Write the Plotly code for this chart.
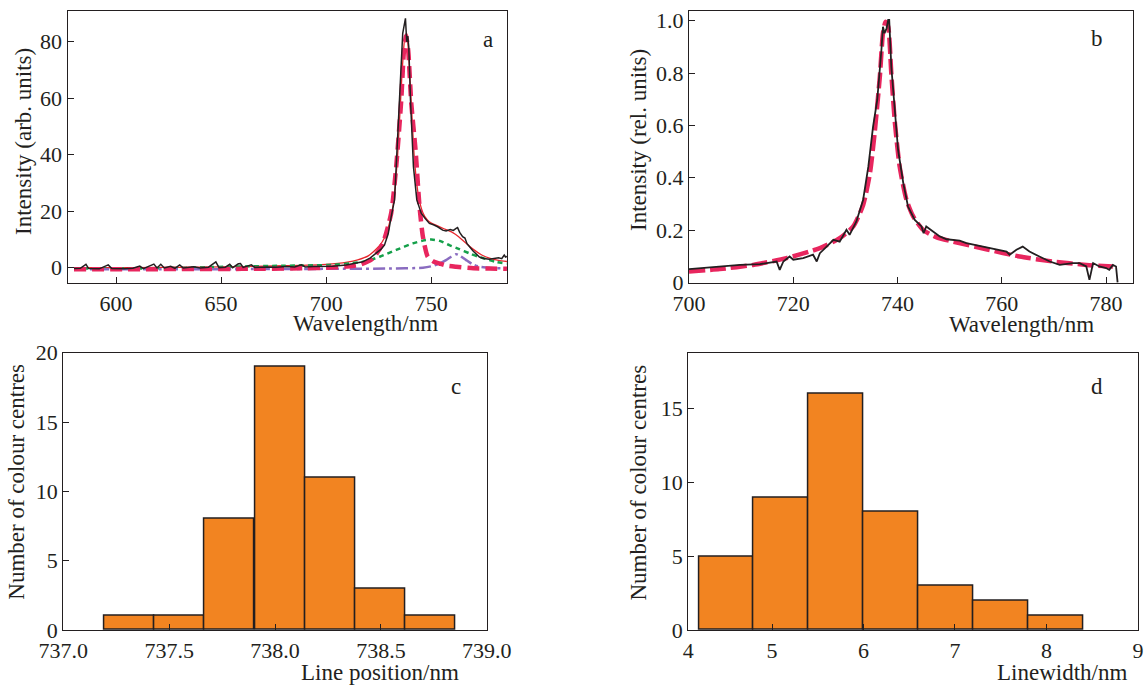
import plotly.graph_objects as go
from plotly.subplots import make_subplots

# ---------------- Panel a: spectrum with fit components ----------------
a_wl = [580, 583, 585.7, 587, 592, 596.3, 598, 604, 608, 611.3, 613, 618, 619.5, 621.3, 623, 626, 628,
        630.3, 632, 637, 640, 644, 647.5, 649, 652, 654.1, 655.5, 658.2, 659.2, 660.5, 664.4, 666, 672,
        676, 681, 685, 688.2, 690, 694, 698, 703, 709.5, 714, 717.4, 721, 723.8, 726, 727.7, 729.5,
        730.9, 732.5, 733.3, 734.9, 736.4, 737.7, 738.3, 738.8, 739.3, 740.1, 740.9, 741.5, 743.1,
        745.2, 747, 749.1, 751, 753, 755.4, 757, 759, 760.5, 761.8, 762.5, 763.5, 764.9, 766, 767,
        768.1, 770, 772.9, 775, 777.6, 780, 782, 783.5, 784.7, 785.3, 786]
a_int = [-0.3, -0.2, 1.2, -0.3, -0.4, 1.0, -0.3, -0.4, -0.2, 0.6, -0.3, 1.3, -0.1, 1.2, -0.1, 0.5, -0.2,
         1.0, -0.1, 0.3, -0.1, 0.2, 2.1, 0.0, 0.2, 1.2, 0.0, 1.4, 1.5, 0.1, 1.0, 0.1, 0.3,
         0.2, 0.4, 0.3, 1.0, 0.3, 0.4, 0.4, 0.5, 1.0, 1.6, 2.1, 3.5, 5.1, 6.5, 8.0, 12.0,
         18.0, 24.0, 35.8, 59.3, 83.0, 88.3, 80.0, 82.0, 78.0, 59.3, 47.6, 35.8, 24.0,
         19.3, 17.5, 15.7, 15.2, 14.5, 13.3, 13.0, 13.5, 13.2, 13.9, 14.2, 12.5, 11.0, 10.5, 8.5,
         7.5, 5.8, 3.8, 3.3, 3.0, 3.3, 3.5, 3.2, 4.5, 3.8, 4.0]

fit_total_wl = [580, 600, 620, 640, 660, 680, 700, 710, 715, 720, 725, 728, 730, 732, 734, 736, 737.5,
                738.3, 739, 740.5, 742, 744, 746, 748, 750, 753, 756, 760, 763, 766, 770, 774, 778, 782, 786]
fit_total = [0.0, 0.0, 0.1, 0.2, 0.4, 0.7, 1.2, 2.0, 2.8, 4.2, 7.5, 11.0, 15.5, 23.0, 40.0, 68.0, 82.0,
             83.0, 78.0, 58.0, 38.0, 25.0, 19.5, 17.0, 15.8, 14.8, 13.8, 12.5, 11.0, 9.0, 6.5, 4.5, 3.3, 2.6, 2.2]

lor_wl = [580, 620, 660, 690, 700, 709.5, 715.9, 722.2, 726.9, 730.9, 733.3, 735.7, 737, 738, 739, 740.5,
          742.5, 744.4, 746, 748.3, 751, 753.9, 757, 761.8, 770, 777.6, 786]
lor_int = [-0.5, -0.5, -0.4, -0.2, 0.0, 0.4, 1.0, 3.3, 8.6, 19.3, 35.8, 59.3, 77.0, 82.0, 77.0, 58.0,
           41.7, 21.6, 11.0, 3.9, 2.2, 1.5, 0.8, 0.35, -0.2, -0.3, -0.4]

gauss1_wl = [580, 620, 655.5, 680, 703, 712, 719, 725.4, 733.3, 741.2, 746, 750, 754, 758.6, 763, 768.1,
             772, 777.6, 781, 786]
gauss1_int = [-0.3, -0.2, 0.4, 0.7, 1.0, 1.6, 2.3, 3.9, 6.3, 8.6, 9.6, 10.0, 9.5, 8.0, 6.7, 5.1,
              4.0, 2.7, 2.0, 1.4]

gauss2_wl = [580, 620, 660, 700, 730, 746, 750, 753.9, 757, 759.5, 761.8, 763.5, 766.6, 769.5, 772.9, 778, 786]
gauss2_int = [-0.5, -0.5, -0.5, -0.4, -0.3, 0.0, 0.5, 1.5, 2.7, 3.9, 4.8, 4.3, 2.7, 1.3, 0.35, -0.1, -0.2]

# ---------------- Panel b: normalised spectrum with Lorentzian fit ----------------
b_wl = [700, 702.1, 705.9, 709.8, 713.6, 716.8, 717.4, 718.1, 719.3, 720.0, 721.9, 723.8, 724.5, 725.1,
        726.4, 727.7, 728.9, 730.2, 730.8, 732.1, 733.4, 734.4, 735.3, 736.1, 736.9, 737.2, 737.5, 737.9,
        738.2, 738.4, 738.8, 739.5, 740.1, 741.1, 742.0, 743.3, 744.6, 745.0, 745.5, 746.8, 748.1, 749.4,
        750.6, 751.9, 753.2, 755.7, 757.0, 758.9, 760.9, 761.5, 762.8, 764.0, 765.3, 767.2, 769.2, 771.1,
        773.6, 774.9, 776.2, 776.8, 777.5, 778.7, 780.0, 780.6, 781.3, 781.9, 782.2]
b_int = [0.051, 0.055, 0.061, 0.067, 0.070, 0.080, 0.048, 0.080, 0.099, 0.087, 0.093, 0.106, 0.080, 0.112,
         0.137, 0.163, 0.156, 0.201, 0.182, 0.233, 0.316, 0.443, 0.595, 0.697, 0.888, 0.977, 0.952, 0.971,
         1.003, 1.003, 0.824, 0.634, 0.506, 0.379, 0.290, 0.239, 0.214, 0.188, 0.214, 0.195, 0.176, 0.165,
         0.163, 0.160, 0.150, 0.140, 0.135, 0.127, 0.118, 0.106, 0.125, 0.137, 0.118, 0.099, 0.080, 0.067,
         0.074, 0.074, 0.061, 0.010, 0.074, 0.061, 0.055, 0.048, 0.067, 0.061, 0.0]

b_fit_wl = [700, 705.9, 712.3, 718.7, 725.1, 728.9, 731.5, 733.4, 734.7, 735.6, 736.6, 737.2, 737.7, 738.2,
            738.8, 739.5, 740.4, 741.7, 743.0, 744.9, 747.4, 750.6, 757.0, 763.4, 769.8, 776.2, 781.3]
b_fit = [0.042, 0.051, 0.067, 0.093, 0.131, 0.169, 0.214, 0.296, 0.417, 0.570, 0.786, 0.952, 0.996, 0.977,
         0.799, 0.608, 0.443, 0.316, 0.252, 0.201, 0.173, 0.156, 0.127, 0.099, 0.080, 0.067, 0.061]

# ---------------- Panel c: histogram of line positions ----------------
pos_centres = [737.312, 737.548, 737.786, 738.024, 738.26, 738.497, 738.734]
pos_counts = [1, 1, 8, 19, 11, 3, 1]
pos_bin_width = 0.236

# ---------------- Panel d: histogram of linewidths ----------------
lw_centres = [4.5, 5.1, 5.7, 6.3, 6.9, 7.5, 8.1]
lw_counts = [5, 9, 16, 8, 3, 2, 1]
lw_bin_width = 0.6

INK = "#231f20"
FONT = "Liberation Serif"
ORANGE = "#f28421"
PINK = "#e8265e"

fig = make_subplots(rows=2, cols=2)

# panel a traces
fig.add_trace(go.Scatter(x=fit_total_wl, y=fit_total, mode="lines",
                         line=dict(color="#e8262d", width=1.3, shape="spline", smoothing=0.6)), 1, 1)
fig.add_trace(go.Scatter(x=gauss1_wl, y=gauss1_int, mode="lines",
                         line=dict(color="#15a04a", width=2.5, dash="5px,4px", shape="spline", smoothing=0.6)), 1, 1)
fig.add_trace(go.Scatter(x=gauss2_wl, y=gauss2_int, mode="lines",
                         line=dict(color="#8a6cc0", width=2.5, dash="12px,4px,3px,4px", shape="spline", smoothing=0.6)), 1, 1)
fig.add_trace(go.Scatter(x=lor_wl, y=lor_int, mode="lines",
                         line=dict(color=PINK, width=4.5, dash="12px,6px", shape="spline", smoothing=0.6)), 1, 1)
fig.add_trace(go.Scatter(x=a_wl, y=a_int, mode="lines",
                         line=dict(color=INK, width=1.5)), 1, 1)

# panel b traces
fig.add_trace(go.Scatter(x=b_fit_wl, y=b_fit, mode="lines",
                         line=dict(color=PINK, width=4.5, dash="16px,5px", shape="spline", smoothing=0.6)), 1, 2)
fig.add_trace(go.Scatter(x=b_wl, y=b_int, mode="lines",
                         line=dict(color=INK, width=1.8)), 1, 2)

# panel c, d bars
fig.add_trace(go.Bar(x=pos_centres, y=pos_counts, width=pos_bin_width,
                     marker=dict(color=ORANGE, line=dict(color=INK, width=1.5))), 2, 1)
fig.add_trace(go.Bar(x=lw_centres, y=lw_counts, width=lw_bin_width,
                     marker=dict(color=ORANGE, line=dict(color=INK, width=1.5))), 2, 2)

axis_common = dict(showline=True, mirror=True, linecolor=INK, linewidth=1.3,
                   ticks="inside", ticklen=6, tickwidth=1.3, tickcolor=INK,
                   showgrid=False, zeroline=False, automargin=False,
                   tickfont=dict(family=FONT, size=22, color=INK))

fig.update_layout(
    width=1147, height=686,
    margin=dict(l=0, r=0, t=0, b=0, autoexpand=False),
    paper_bgcolor="white", plot_bgcolor="white",
    showlegend=False, bargap=0,
    font=dict(family=FONT, color=INK),
    xaxis=dict(domain=[0.059, 0.442], range=[577, 786], tickvals=[600, 650, 700, 750], **axis_common),
    yaxis=dict(domain=[0.5875, 0.984], range=[-5.4, 90.9], tickvals=[0, 20, 40, 60, 80], **axis_common),
    xaxis2=dict(domain=[0.6007, 0.988], range=[700, 785.2], tickvals=[700, 720, 740, 760, 780], **axis_common),
    yaxis2=dict(domain=[0.5875, 0.984], range=[-0.002, 1.037], tickvals=[0, 0.2, 0.4, 0.6, 0.8, 1.0],
                ticktext=["0", "0.2", "0.4", "0.6", "0.8", "1.0"], **axis_common),
    xaxis3=dict(domain=[0.0552, 0.4244], range=[737.0, 739.0],
                tickvals=[737.0, 737.5, 738.0, 738.5, 739.0], tickformat=".1f", **axis_common),
    yaxis3=dict(domain=[0.0816, 0.4859], range=[0, 20], tickvals=[0, 5, 10, 15, 20], **axis_common),
    xaxis4=dict(domain=[0.6001, 0.9921], range=[4.085, 9.0], tickvals=[4.085, 5, 6, 7, 8, 9],
                ticktext=["4", "5", "6", "7", "8", "9"], **axis_common),
    yaxis4=dict(domain=[0.0816, 0.4859], range=[0, 18.8], tickvals=[0, 5, 10, 15], **axis_common),
)

title_font = dict(family=FONT, size=23, color=INK)
annotations = [
    # x titles
    dict(text="Wavelength/nm", x=0.319, y=0.528),
    dict(text="Wavelength/nm", x=0.8906, y=0.527),
    dict(text="Line position/nm", x=0.3309, y=0.019),
    dict(text="Linewidth/nm", x=0.9259, y=0.019),
    # y titles
    dict(text="Intensity (arb. units)", x=0.0209, y=0.7945, textangle=-90),
    dict(text="Intensity (rel. units)", x=0.5562, y=0.7959, textangle=-90),
    dict(text="Number of colour centres", x=0.0148, y=0.2978, textangle=-90),
    dict(text="Number of colour centres", x=0.5571, y=0.2966, textangle=-90),
    # panel letters
    dict(text="a", x=0.4255, y=0.9417),
    dict(text="b", x=0.9564, y=0.9446),
    dict(text="c", x=0.3976, y=0.4359),
    dict(text="d", x=0.9564, y=0.4359),
]
for ann in annotations:
    ann.update(xref="paper", yref="paper", showarrow=False, xanchor="center", yanchor="middle",
               font=title_font)
fig.update_layout(annotations=annotations)

fig.write_html("out.html", config={"displayModeBar": False},
               post_script="document.body.style.margin='0';document.body.style.overflow='hidden';")
